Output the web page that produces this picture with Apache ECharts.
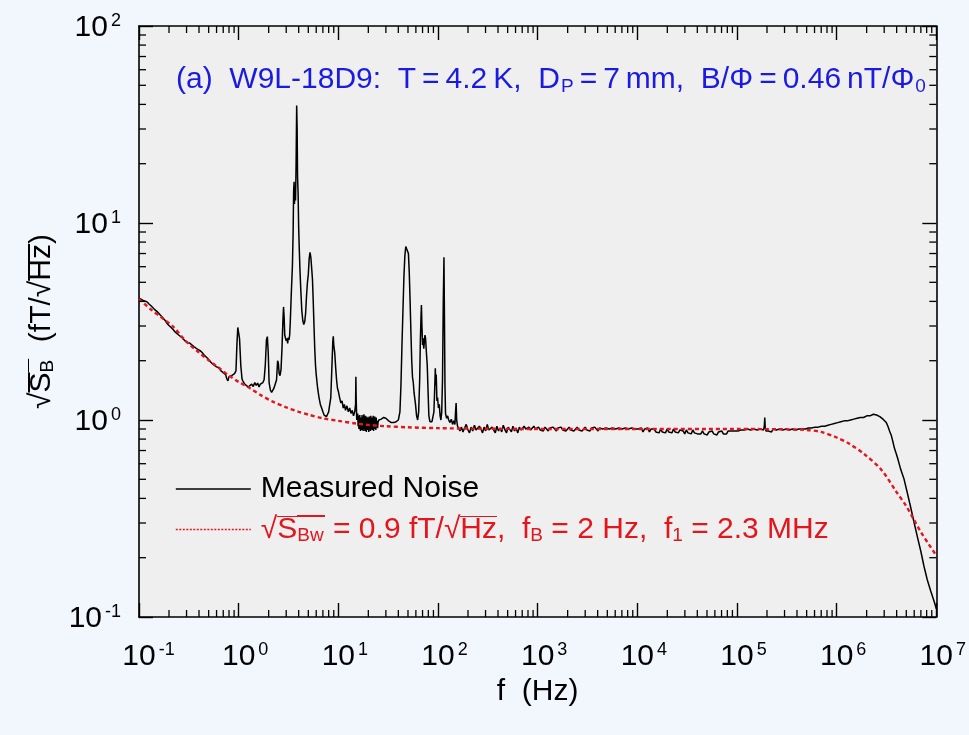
<!DOCTYPE html>
<html>
<head>
<meta charset="utf-8">
<script src="https://cdn.jsdelivr.net/npm/echarts@6/dist/echarts.min.js"></script>
<style>
html,body{margin:0;padding:0;background:#f1f7fc;}
#chart{width:969px;height:735px;}
</style>
</head>
<body>
<div id="chart"></div>
<script>
// ---- data ----
const xTickExponents = [-1, 0, 1, 2, 3, 4, 5, 6, 7];
const yTickExponents = [-1, 0, 1, 2];

const noiseLow = [[0.1,4.16],[0.105,4.1],[0.11,4.05],[0.115,4.08],[0.12,3.98],[0.126,3.88],[0.132,3.8],[0.138,3.72],[0.145,3.62],[0.152,3.55],[0.16,3.45],[0.167,3.38],[0.175,3.28],[0.183,3.2],[0.19,3.1],[0.2,3.02],[0.21,2.95],[0.22,2.88],[0.23,2.8],[0.24,2.76],[0.25,2.7],[0.26,2.64],[0.27,2.62],[0.28,2.56],[0.29,2.52],[0.3,2.5],[0.31,2.47],[0.325,2.45],[0.34,2.42],[0.355,2.36],[0.37,2.33],[0.39,2.28],[0.41,2.25],[0.43,2.2],[0.45,2.14],[0.47,2.1],[0.49,2.05],[0.51,2.0],[0.53,1.96],[0.55,1.92],[0.57,1.9],[0.6,1.86],[0.62,1.82],[0.64,1.84],[0.66,1.78],[0.68,1.76],[0.7,1.74],[0.72,1.72],[0.74,1.7],[0.76,1.62],[0.78,1.58],[0.8,1.66],[0.82,1.68],[0.85,1.68],[0.88,1.7],[0.91,1.72],[0.94,1.78],[0.96,2.4],[0.98,2.95],[1.0,2.98],[1.02,2.6],[1.05,1.9],[1.08,1.62]];

const noisePeaks = [[1.1,1.58],[1.15,1.52],[1.2,1.5],[1.25,1.47],[1.3,1.46],[1.35,1.52],[1.4,1.48],[1.45,1.55],[1.5,1.5],[1.55,1.54],[1.6,1.47],[1.65,1.52],[1.7,1.5],[1.75,1.55],[1.8,1.6],[1.85,1.9],[1.9,2.55],[1.94,2.65],[1.98,2.2],[2.02,1.55],[2.08,1.42],[2.14,1.38],[2.2,1.36],[2.26,1.45],[2.32,1.42],[2.4,1.6],[2.46,2.0],[2.5,1.95],[2.55,1.72],[2.6,1.68],[2.66,1.8],[2.72,2.3],[2.78,3.2],[2.82,3.75],[2.86,3.3],[2.9,2.7],[2.95,2.6],[3.0,2.52],[3.05,2.6],[3.1,2.45],[3.15,2.62],[3.2,2.55],[3.25,2.7],[3.3,3.2],[3.38,4.5],[3.46,6.0],[3.52,9.0],[3.56,14.5],[3.6,16.2],[3.63,12.5],[3.67,15.5],[3.72,13.0],[3.77,20],[3.82,39.5],[3.86,30],[3.9,17],[3.95,14],[4.0,9.5],[4.05,7.6],[4.12,5.8],[4.2,4.6],[4.3,3.6],[4.4,3.2],[4.5,3.05],[4.6,3.15],[4.7,3.5],[4.8,4.3],[4.9,5.0],[5.0,5.5],[5.1,6.6],[5.2,7.1],[5.3,6.7],[5.4,5.9],[5.5,5.2],[5.6,4.0],[5.7,3.0],[5.8,2.3],[5.9,1.9],[6.0,1.7],[6.2,1.45],[6.4,1.3],[6.6,1.2],[6.8,1.15],[7.0,1.1],[7.2,1.06],[7.4,1.08],[7.6,1.04],[7.8,1.07],[8.0,1.1],[8.2,1.2],[8.4,1.3],[8.6,1.8],[8.8,2.5],[8.9,2.66],[9.0,2.4],[9.2,2.2],[9.4,1.85],[9.6,1.6],[9.8,1.45],[10.0,1.4],[10.3,1.3],[10.6,1.22],[10.9,1.25],[11.2,1.15],[11.5,1.2],[11.8,1.12],[12.2,1.18],[12.6,1.1],[13.0,1.15],[13.4,1.08],[13.8,1.12],[14.2,1.05],[14.6,1.1],[14.9,1.2],[15.0,1.66],[15.1,1.3],[15.3,1.0],[15.5,0.98],[15.65,1.08],[15.8,0.93],[15.95,1.05],[16.1,0.9],[16.25,1.0],[16.4,1.06],[16.55,0.91],[16.7,0.88],[16.85,1.03],[17.0,0.97],[17.15,0.89],[17.3,1.06],[17.45,0.92],[17.6,1.04],[17.75,0.88],[17.9,0.99],[18.05,1.07],[18.2,0.9],[18.35,0.96],[18.5,0.88],[18.65,1.05],[18.8,0.93],[18.95,1.01],[19.1,0.87],[19.25,1.04],[19.4,0.95],[19.55,0.89],[19.7,1.03],[19.85,0.92],[20.0,1.0],[20.2,0.87],[20.4,1.04],[20.6,0.9],[20.8,0.98],[21.0,0.88],[21.2,1.05],[21.4,0.91],[21.6,1.0],[21.8,0.89],[22.0,1.03],[22.2,0.92],[22.4,1.05],[22.6,0.88],[22.8,0.99],[23.0,0.91],[23.2,1.04],[23.4,0.9],[23.6,0.97],[23.8,0.89],[24.0,1.03],[24.25,0.92],[24.5,0.99],[24.75,0.91],[25.0,0.97],[25.5,1.0],[27,1.01],[28.5,1.03],[30,1.02],[32,0.99],[34,0.97],[36,0.97],[38,0.98],[40,1.0],[41.5,1.1],[42.5,1.5],[43.5,2.4],[44.5,3.6],[45.5,5.3],[46.5,6.8],[47.5,7.6],[48.5,7.7],[49.5,7.5],[50.5,7.0],[51.5,5.6],[52.5,4.0],[53.5,2.8],[54.5,2.0],[55.5,1.65],[56.5,1.55],[57.5,1.38],[58.5,1.4],[59.5,1.2],[61,1.05],[62.5,1.0],[64,1.1],[65.5,1.6],[66.5,2.5],[67.5,3.3],[68.2,3.83],[69,3.0],[70,2.4],[71,2.6],[72,2.3],[73,2.5],[74,2.7],[75,2.6],[76.5,2.2],[78,1.9],[79.5,1.4],[81,1.05],[83,0.98],[85,0.97],[87,0.98],[89,1.0],[91,1.1],[92.5,1.4],[94,1.83],[95,1.5],[96,1.7],[97.5,1.25],[99,1.3],[101,1.15],[103,1.2],[105,1.05],[107,1.0],[109,1.1],[111,1.6],[113,4.0],[114.8,6.7],[116,3.5],[117.5,1.5],[119,1.08],[122,1.02],[125,1.05],[128,1.0],[132,0.97],[136,1.01],[140,0.95],[144,0.99],[148,0.95],[150,1.1],[152,1.22],[154,1.0],[157,0.93]];

const noiseFlat = [[160,0.94],[166,0.88],[172,0.92],[178,0.87],[185,0.91],[192,0.95],[200,0.89],[207,0.86],[215,0.92],[223,0.88],[232,0.94],[241,0.89],[250,0.87],[260,0.93],[270,0.9],[280,0.86],[290,0.92],[301,0.88],[312,0.95],[324,0.89],[336,0.87],[349,0.92],[362,0.9],[376,0.86],[390,0.93],[405,0.88],[420,0.91],[436,0.87],[452,0.94],[470,0.89],[487,0.86],[506,0.92],[524,0.9],[545,0.87],[565,0.93],[587,0.88],[608,0.91],[632,0.86],[655,0.92],[680,0.89],[705,0.87],[732,0.93],[760,0.9],[790,0.88],[818,0.92],[850,0.89],[880,0.87],[915,0.93],[948,0.9],[985,0.88],[1020,0.92],[1060,0.89],[1100,0.91],[1140,0.88],[1185,0.92],[1230,0.9],[1275,0.88],[1325,0.91],[1375,0.89],[1430,0.92],[1480,0.9],[1540,0.88],[1595,0.91],[1655,0.89],[1715,0.92],[1785,0.89],[1850,0.91],[1920,0.88],[1990,0.9],[2070,0.92],[2145,0.89],[2230,0.91],[2310,0.88],[2400,0.9],[2490,0.92],[2590,0.89],[2680,0.91],[2790,0.88],[2885,0.9],[3000,0.92],[3110,0.89],[3230,0.9],[3350,0.88],[3480,0.91],[3600,0.89],[3740,0.92],[3880,0.9],[4030,0.88],[4180,0.91],[4340,0.89],[4500,0.9],[4670,0.88],[4850,0.91],[5030,0.89],[5220,0.9],[5420,0.88],[5620,0.91],[5840,0.89],[6060,0.9],[6290,0.88],[6520,0.91],[6770,0.89],[7030,0.9],[7290,0.88],[7570,0.91],[7850,0.89],[8150,0.9],[8460,0.88],[8780,0.91],[9110,0.89],[9460,0.9],[9820,0.88],[10200,0.9],[10590,0.88],[10980,0.91],[11400,0.87],[11830,0.9],[12280,0.88],[12740,0.91],[13220,0.87],[13720,0.9],[14240,0.88],[14780,0.9],[15340,0.87],[15920,0.89],[16520,0.86],[17150,0.9],[17800,0.87],[18470,0.89],[19170,0.86],[19900,0.9],[20650,0.87],[21430,0.89],[22240,0.86],[23080,0.9],[23950,0.87],[24860,0.89],[25800,0.86],[26780,0.89],[27790,0.87],[28840,0.88],[29930,0.85],[31070,0.89],[32240,0.86],[33460,0.88],[34730,0.85],[36040,0.89],[37400,0.86],[38820,0.88],[40290,0.85],[41810,0.87],[43390,0.85],[45030,0.88],[46740,0.85],[48500,0.87],[50330,0.84],[52240,0.87],[54210,0.85],[56270,0.88],[58400,0.85],[60600,0.87],[62900,0.84],[65280,0.87],[67750,0.85],[70310,0.88],[72970,0.85],[75730,0.87],[78590,0.85],[81570,0.88],[84650,0.86],[87860,0.88],[91180,0.86],[94630,0.88],[98200,0.86],[101900,0.88],[105800,0.87],[109800,0.89],[113900,0.87],[118300,0.89],[122700,0.88],[127400,0.9],[132200,0.88],[137200,0.89],[142400,0.87],[147800,0.9],[153400,0.88],[159200,0.89],[165200,0.87],[171500,0.9],[178000,0.88],[184700,0.89],[188000,0.93],[190000,1.03],[192000,0.92],[195000,0.88],[199000,0.9],[206000,0.88],[214300,0.89],[222000,0.87],[230800,0.9],[239000,0.88],[248600,0.89],[258000,0.87],[267800,0.9],[278000,0.88],[288400,0.89],[299000,0.88],[310700,0.9],[322000,0.88],[334600,0.89],[347000,0.88],[360400,0.9],[374000,0.88],[388200,0.89],[403000,0.89],[418100,0.9],[434000,0.88],[450300,0.9],[467000,0.89],[485000,0.9],[503000,0.89]];

const noiseRolloff = [[522000,0.91],[542000,0.89],[562000,0.91],[584000,0.9],[606000,0.92],[629000,0.9],[653000,0.92],[678000,0.91],[704000,0.93],[731000,0.91],[759000,0.93],[788000,0.92],[818000,0.94],[849000,0.92],[881000,0.95],[915000,0.93],[950000,0.96],[986000,0.94],[1024000,0.97],[1063000,0.95],[1103000,0.98],[1145000,0.96],[1189000,0.99],[1234000,0.97],[1281000,0.99],[1330000,0.98],[1381000,1.0],[1434000,0.98],[1488000,1.01],[1545000,0.99],[1604000,1.02],[1665000,1.0],[1729000,1.03],[1795000,1.01],[1863000,1.03],[1934000,1.02],[2008000,1.05],[2085000,1.03],[2165000,1.05],[2247000,1.04],[2333000,1.07],[2422000,1.05],[2515000,1.06],[2611000,1.04],[2710000,1.04],[2814000,1.03],[2921000,1.01],[3033000,0.99],[3149000,0.97],[3269000,0.93],[3394000,0.88],[3523000,0.84],[3658000,0.78],[3797000,0.72],[3942000,0.68],[4093000,0.64],[4400000,0.56],[4750000,0.5],[5100000,0.43],[5500000,0.365],[6000000,0.3],[6460000,0.255],[7000000,0.215],[7500000,0.182],[8100000,0.155],[8770000,0.136],[9300000,0.124],[9650000,0.117],[10000000,0.11]];

const fitCurve = [[0.1,4.12],[0.13,3.66],[0.17,3.3],[0.22,2.98],[0.3,2.49],[0.4,2.2],[0.5,2.01],[0.65,1.82],[0.8,1.68],[1,1.56],[1.3,1.45],[1.7,1.33],[2.2,1.24],[3,1.16],[4,1.1],[5,1.065],[7,1.02],[10,0.99],[15,0.96],[20,0.944],[30,0.93],[50,0.918],[100,0.909],[300,0.903],[1000,0.9],[10000,0.9],[100000,0.9],[300000,0.897],[500000,0.89],[700000,0.87],[1000000,0.815],[1300000,0.765],[1900000,0.67],[2800000,0.56],[4000000,0.43],[5000000,0.365],[6000000,0.31],[7000000,0.27],[8500000,0.232],[10000000,0.205]];

const noiseData = noiseLow.concat(noisePeaks, noiseFlat, noiseRolloff);

// ---- helpers ----
const FONT = 'Liberation Sans, Arial, Helvetica, sans-serif';
const RED = '#e3151d';
const BLUE = '#1a1ae0';
const TS = '\u2009'; // thin space

function overline(color, frac, thick) {
  const c = document.createElement('canvas');
  c.width = 8; c.height = 100;
  const g = c.getContext('2d');
  g.fillStyle = color;
  g.fillRect(0, Math.round(frac * 100), 8, thick);
  return c;
}

const minorX = [];
for (let k = -1; k <= 6; k++) for (let m = 2; m <= 9; m++) minorX.push([m * Math.pow(10, k), 1]);
const minorY = [];
for (let k = -1; k <= 1; k++) for (let m = 2; m <= 9; m++) minorY.push([1, m * Math.pow(10, k)]);

function supLabel(v, padLeft) {
  const e = Math.round(Math.log10(v));
  const s = String(e);
  if (padLeft) return '{' + (s.length > 1 ? 'p2' : 'p1') + '|}{b|10}{s|' + s + '}';
  return '{b|10}{s|' + s + '}';
}

const labelRich = {
  b: { fontSize: 30, fontFamily: FONT, color: '#000', lineHeight: 32 },
  s: { fontSize: 18, fontFamily: FONT, color: '#000', verticalAlign: 'top', lineHeight: 18, padding: [0, 0, 0, 3] },
  p1: { width: 13 },
  p2: { width: 19 }
};

const chart = echarts.init(document.getElementById('chart'), null, { renderer: 'canvas' });

const olRed = overline(RED, 0.04, 5);
const olBlack = overline('#000', 0.04, 5);

const legendRich = {
  k: { fontSize: 30, fontFamily: FONT, color: '#000', lineHeight: 36, padding: [0, 0, 0, 5] },
  r: { fontSize: 30, fontFamily: FONT, color: RED, lineHeight: 36 },
  r0: { fontSize: 30, fontFamily: FONT, color: RED, lineHeight: 36, padding: [0, 0, 0, 5] },
  ro: { fontSize: 30, fontFamily: FONT, color: RED, lineHeight: 36, backgroundColor: { image: olRed } },
  rsb: { fontSize: 19, fontFamily: FONT, color: RED, lineHeight: 24, padding: [12, 0, 0, 0] },
  rsbo: { fontSize: 19, fontFamily: FONT, color: RED, lineHeight: 24, padding: [12, 1, 0, 0], backgroundColor: { image: olRed } }
};

const titleText = '{t|(a)  W9L-18D9:  T' + TS + '=' + TS + '4.2' + TS + 'K,  D}{s|P}{t|' + TS + '=' + TS + '7' + TS + 'mm,  B/Φ' + TS + '=' + TS + '0.46' + TS + 'nT/Φ}{s|0}';

const option = {
  backgroundColor: '#f1f7fc',
  animation: false,
  title: {
    text: titleText,
    left: 171, top: 56,
    textStyle: {
      fontWeight: 'normal',
      rich: {
        t: { fontSize: 30, fontFamily: FONT, fontWeight: 'normal', color: BLUE, lineHeight: 38 },
        s: { fontSize: 19, fontFamily: FONT, fontWeight: 'normal', color: BLUE, lineHeight: 24, padding: [14, 0, 0, 1] }
      }
    }
  },
  legend: {
    orient: 'vertical',
    left: 170, top: 469,
    itemWidth: 75, itemHeight: 16, itemGap: 10,
    selectedMode: false,
    itemStyle: { opacity: 0, color: 'transparent', borderWidth: 0 },
    data: [
      { name: 'Measured Noise', lineStyle: { width: 1.3, color: '#000' } },
      { name: 'Fit', lineStyle: { width: 1.6, color: RED, type: [2, 1.5] } }
    ],
    formatter: function (name) {
      if (name === 'Fit') return '{r0|√}{ro|S}{rsbo|Bw}{r| = 0.9 fT/√}{ro|Hz}{r|,  f}{rsb|B}{r| = 2 Hz,  f}{rsb|1}{r| = 2.3 MHz}';
      return '{k|Measured Noise}';
    },
    textStyle: { rich: legendRich }
  },
  grid: { left: 139, right: 30, top: 26, bottom: 118, show: true, backgroundColor: '#efefef', borderWidth: 0 },
  xAxis: [{
    type: 'log', logBase: 10, min: 0.1, max: 1e7, position: 'bottom',
    name: 'f  (Hz)', nameLocation: 'middle', nameGap: 55,
    nameTextStyle: { fontSize: 30, fontFamily: FONT, color: '#000' },
    axisLine: { lineStyle: { color: '#000', width: 1.6 } },
    axisTick: { inside: true, length: 14, lineStyle: { color: '#000', width: 1.4 } },
    splitLine: { show: false },
    axisLabel: {
      margin: 24,
      formatter: function (v) { return supLabel(v, true); },
      rich: labelRich
    }
  }, {
    type: 'log', logBase: 10, min: 0.1, max: 1e7, position: 'top',
    axisLine: { lineStyle: { color: '#000', width: 1.6 } },
    axisTick: { inside: true, length: 14, lineStyle: { color: '#000', width: 1.4 } },
    axisLabel: { show: false }, splitLine: { show: false }
  }],
  yAxis: [{
    type: 'log', logBase: 10, min: 0.1, max: 100, position: 'left',
    name: '{t|√}{o|S}{sbo|B}{t|  (fT/√}{o|Hz}{t|)}', nameLocation: 'middle', nameGap: 79,
    nameTextStyle: {
      rich: {
        t: { fontSize: 30, fontFamily: FONT, color: '#000', lineHeight: 36 },
        o: { fontSize: 30, fontFamily: FONT, color: '#000', lineHeight: 36, backgroundColor: { image: olBlack } },
        sbo: { fontSize: 19, fontFamily: FONT, color: '#000', lineHeight: 24, padding: [12, 1, 0, 0], backgroundColor: { image: olBlack } }
      }
    },
    axisLine: { lineStyle: { color: '#000', width: 1.6 } },
    axisTick: { inside: true, length: 14, lineStyle: { color: '#000', width: 1.4 } },
    splitLine: { show: false },
    axisLabel: {
      margin: 18, padding: [4, 0, 0, 0],
      formatter: function (v) { return supLabel(v, false); },
      rich: labelRich
    }
  }, {
    type: 'log', logBase: 10, min: 0.1, max: 100, position: 'right',
    axisLine: { lineStyle: { color: '#000', width: 1.6 } },
    axisTick: { inside: true, length: 14, lineStyle: { color: '#000', width: 1.4 } },
    axisLabel: { show: false }, splitLine: { show: false }
  }],
  series: [{
    name: 'Measured Noise', type: 'line', data: noiseData,
    symbol: 'none', showSymbol: false,
    lineStyle: { color: '#000', width: 1.5 }, itemStyle: { color: '#000' }, z: 2
  }, {
    name: 'Fit', type: 'line', data: fitCurve, smooth: 0.3,
    symbol: 'none', showSymbol: false,
    lineStyle: { color: RED, width: 2.4, type: [4, 3] }, itemStyle: { color: RED }, z: 3
  }, {
    type: 'custom', silent: true, data: minorX, z: 5,
    renderItem: function (params, api) {
      const v = api.value(0);
      const b = api.coord([v, 0.1]);
      const t = api.coord([v, 100]);
      const st = { stroke: '#000', lineWidth: 1.3 };
      return { type: 'group', children: [
        { type: 'line', shape: { x1: b[0], y1: b[1], x2: b[0], y2: b[1] - 7 }, style: st },
        { type: 'line', shape: { x1: t[0], y1: t[1], x2: t[0], y2: t[1] + 7 }, style: st }
      ] };
    }
  }, {
    type: 'custom', silent: true, data: minorY, z: 5,
    renderItem: function (params, api) {
      const v = api.value(1);
      const l = api.coord([0.1, v]);
      const r = api.coord([1e7, v]);
      const st = { stroke: '#000', lineWidth: 1.3 };
      return { type: 'group', children: [
        { type: 'line', shape: { x1: l[0], y1: l[1], x2: l[0] + 7, y2: l[1] }, style: st },
        { type: 'line', shape: { x1: r[0], y1: r[1], x2: r[0] - 7, y2: r[1] }, style: st }
      ] };
    }
  }]
};
chart.setOption(option);
</script>
</body>
</html>
